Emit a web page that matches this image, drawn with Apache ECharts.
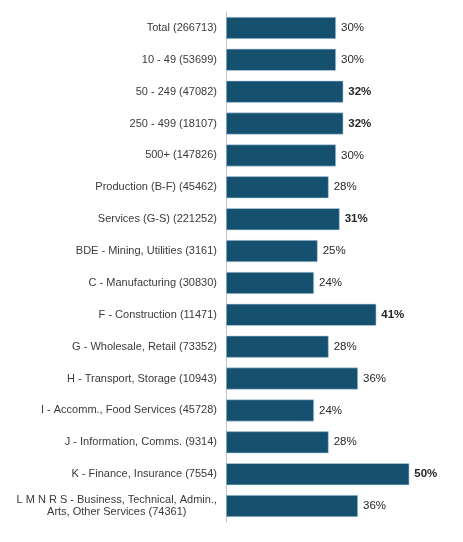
<!DOCTYPE html>
<html>
<head>
<meta charset="utf-8">
<script src="https://cdn.jsdelivr.net/npm/echarts@6/dist/echarts.min.js"></script>
<style>
  html, body { margin: 0; padding: 0; background: #fff; }
  #chart { width: 463px; height: 542px; }
</style>
</head>
<body>
<div id="chart"></div>
<script>
// categories, top to bottom
const categories = [
  'Total (266713)',
  '10 - 49 (53699)',
  '50 - 249 (47082)',
  '250 - 499 (18107)',
  '500+ (147826)',
  'Production (B-F) (45462)',
  'Services (G-S) (221252)',
  'BDE - Mining, Utilities (3161)',
  'C - Manufacturing (30830)',
  'F - Construction (11471)',
  'G - Wholesale, Retail (73352)',
  'H - Transport, Storage (10943)',
  'I - Accomm., Food Services (45728)',
  'J - Information, Comms. (9314)',
  'K - Finance, Insurance (7554)',
  'L M N R S - Business, Technical, Admin.,\nArts, Other Services (74361)'
];

// share in percent
const values = [30, 30, 32, 32, 30, 28, 31, 25, 24, 41, 28, 36, 24, 28, 50, 36];

// which value labels are printed in bold
const boldLabels = [false, false, true, true, false, false, true, false, false, true, false, false, false, false, true, false];

const chart = echarts.init(document.getElementById('chart'));

chart.setOption({
  animation: false,
  grid: { left: 226, right: 17, top: 12, bottom: 20 },
  xAxis: {
    type: 'value',
    min: 0,
    max: 60,
    show: false
  },
  yAxis: {
    type: 'category',
    data: categories,
    inverse: true,
    axisLine: { show: true, lineStyle: { color: '#c3c3c3', width: 1 } },
    axisTick: { show: false },
    axisLabel: {
      margin: 9,
      fontFamily: 'Liberation Sans, Arial, sans-serif',
      fontSize: 11,
      color: '#3a3a3a',
      // center the lines of a wrapped label, like the reference
      formatter: function (value) {
        if (value.indexOf('\n') < 0) return value;
        return value.split('\n').map(s => '{c|' + s + '}').join('\n');
      },
      rich: {
        c: {
          align: 'center',
          fontFamily: 'Liberation Sans, Arial, sans-serif',
          fontSize: 11,
          color: '#3a3a3a',
          lineHeight: 12.5
        }
      }
    }
  },
  series: [{
    type: 'bar',
    barCategoryGap: '31%',
    data: values.map((v, i) => ({
      value: v,
      label: { fontWeight: boldLabels[i] ? 'bold' : 'normal' }
    })),
    itemStyle: {
      color: '#16506f',
      borderColor: '#b9d3e6',
      borderWidth: 0.6
    },
    label: {
      show: true,
      position: 'right',
      distance: 5,
      formatter: '{c}%',
      fontFamily: 'Liberation Sans, Arial, sans-serif',
      fontSize: 11.5,
      color: '#262626'
    }
  }]
});
</script>
</body>
</html>
